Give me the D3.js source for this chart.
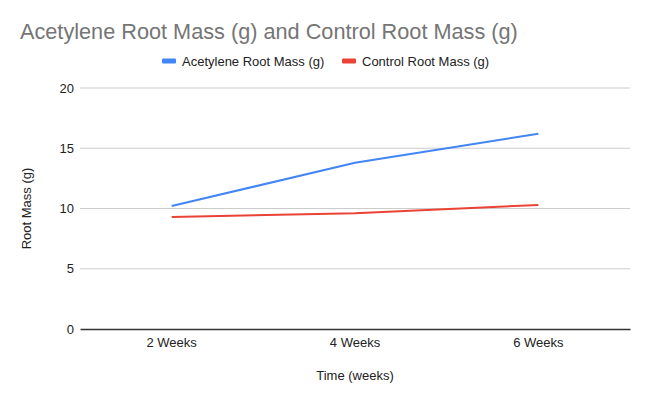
<!DOCTYPE html>
<html>
<head>
<meta charset="utf-8">
<script src="https://cdn.jsdelivr.net/npm/d3@7"></script>
<style>
  html, body { margin: 0; padding: 0; background: #fff; }
  svg { display: block; font-family: "Liberation Sans", Arial, sans-serif; }
</style>
</head>
<body>
<div id="chart"></div>
<script>
// Root mass over time, two series
const weeks = ["2 Weeks", "4 Weeks", "6 Weeks"];
const acetylene = [10.2, 13.8, 16.2];
const control = [9.3, 9.6, 10.3];
const yTicks = [0, 5, 10, 15, 20];

const width = 650, height = 402;
const margin = { top: 88, right: 20, bottom: 73, left: 80 };
const font = "'Liberation Sans', Arial, sans-serif";

const svg = d3.select("#chart").append("svg")
  .attr("width", width).attr("height", height);

const x = d3.scaleBand().domain(weeks).range([margin.left, width - margin.right]);
const y = d3.scaleLinear().domain([0, 20]).range([height - margin.bottom, margin.top]);

// gridlines
svg.append("g").selectAll("line").data(yTicks.filter(d => d !== 0)).join("line")
  .attr("x1", margin.left).attr("x2", width - margin.right)
  .attr("y1", d => y(d)).attr("y2", d => y(d))
  .attr("stroke", "#cccccc").attr("stroke-width", 1);

// y tick labels
svg.append("g").selectAll("text").data(yTicks).join("text")
  .attr("x", margin.left - 6).attr("y", d => y(d)).attr("dy", "0.35em")
  .attr("text-anchor", "end").attr("font-size", 13).attr("fill", "#222")
  .text(d => d);

// x axis
const gX = svg.append("g").attr("transform", `translate(0,${y(0)})`)
  .call(d3.axisBottom(x).tickSize(0).tickPadding(9));
gX.select(".domain").attr("stroke", "#333").attr("stroke-width", 1.3);
gX.selectAll("text").attr("font-size", 13).attr("fill", "#222").attr("font-family", font);

// lines
const line = d3.line().x((d, i) => x(weeks[i]) + x.bandwidth() / 2).y(d => y(d));
const series = [
  { name: "Acetylene Root Mass (g)", values: acetylene, color: "#4285f4" },
  { name: "Control Root Mass (g)", values: control, color: "#ea4335" }
];
svg.append("g").selectAll("path").data(series).join("path")
  .attr("fill", "none").attr("stroke", d => d.color).attr("stroke-width", 2)
  .attr("d", d => line(d.values));

// title
svg.append("text").attr("x", 20).attr("y", 39)
  .attr("font-size", 21.7).attr("fill", "#757575")
  .text("Acetylene Root Mass (g) and Control Root Mass (g)");

// legend
const legendX = [162, 342];
const lg = svg.append("g").selectAll("g").data(series).join("g")
  .attr("transform", (d, i) => `translate(${legendX[i]},61)`);
lg.append("rect").attr("x", 0).attr("y", -2.5).attr("width", 14).attr("height", 5)
  .attr("rx", 1).attr("fill", d => d.color);
lg.append("text").attr("x", 20).attr("dy", "0.35em")
  .attr("font-size", 13).attr("fill", "#222").text(d => d.name);

// axis titles
svg.append("text").attr("x", (margin.left + width - margin.right) / 2).attr("y", 380)
  .attr("text-anchor", "middle").attr("font-size", 13).attr("fill", "#222")
  .text("Time (weeks)");
svg.append("text").attr("transform", `translate(31,${(y(0) + y(20)) / 2}) rotate(-90)`)
  .attr("text-anchor", "middle").attr("font-size", 13).attr("fill", "#222")
  .text("Root Mass (g)");
</script>
</body>
</html>
